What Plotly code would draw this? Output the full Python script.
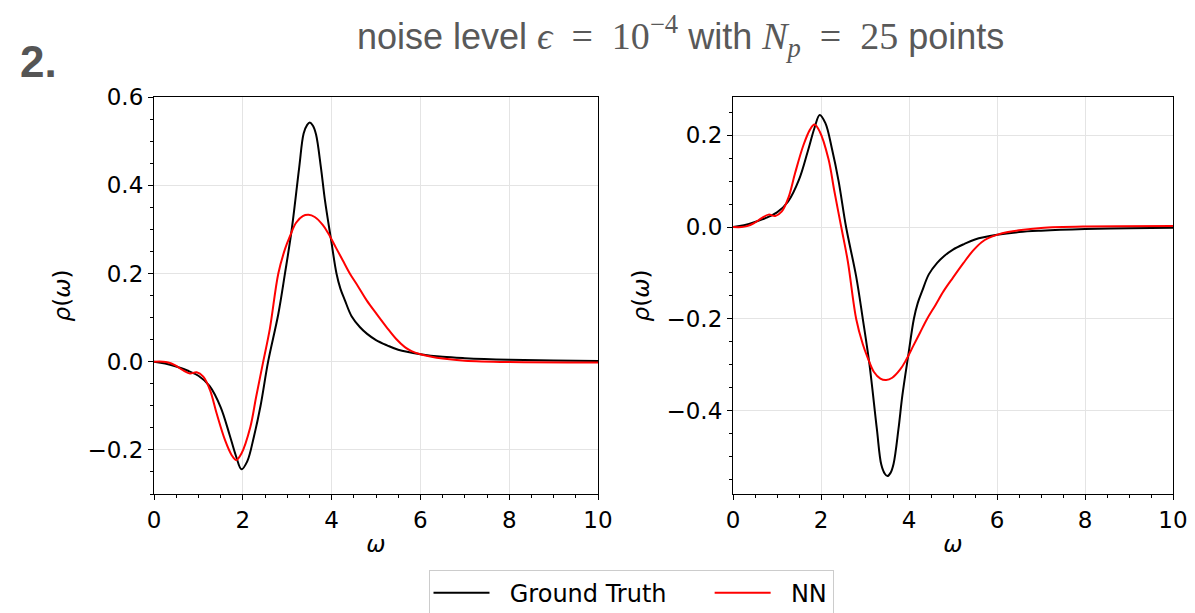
import plotly.graph_objects as go

# ---- data ----
w_gt_left = [0, 0.25, 0.5, 0.75, 1.0, 1.25, 1.5, 1.7, 1.85, 1.97, 2.1, 2.25, 2.4, 2.57, 2.8, 2.95,
             3.1, 3.27, 3.37, 3.45, 3.51, 3.58, 3.65, 3.76, 3.85, 3.99, 4.11, 4.2, 4.3, 4.45, 4.64,
             4.8, 5.0, 5.25, 5.5, 6.0, 6.5, 7.0, 8.0, 9.0, 10.0]
rho_gt_left = [0, -0.004, -0.011, -0.02, -0.032, -0.055, -0.103, -0.165, -0.215, -0.244, -0.226,
               -0.17, -0.10, 0.0, 0.108, 0.2, 0.298, 0.44, 0.517, 0.537, 0.542, 0.535, 0.515, 0.44,
               0.366, 0.275, 0.2, 0.165, 0.139, 0.103, 0.078, 0.063, 0.049, 0.037, 0.027, 0.017,
               0.011, 0.008, 0.0045, 0.0025, 0.0015]

w_nn_left = [0, 0.2, 0.32, 0.47, 0.66, 0.81, 0.96, 1.11, 1.26, 1.41, 1.6, 1.75, 1.85, 1.97, 2.17,
             2.3, 2.46, 2.61, 2.8, 2.95, 3.06, 3.2, 3.35, 3.48, 3.62, 3.8, 3.93, 4.1, 4.25,
             4.41, 4.6, 4.79, 5.0, 5.24, 5.45, 5.65, 5.8, 6.0, 6.25, 6.5, 7.0, 8.0, 10.0]
rho_nn_left = [0, 0.0, -0.002, -0.008, -0.02, -0.027, -0.024, -0.034, -0.064, -0.117, -0.178,
               -0.212, -0.223, -0.208, -0.148, -0.08, 0.0, 0.075, 0.2, 0.255, 0.284, 0.315,
               0.33, 0.333, 0.328, 0.31, 0.29, 0.258, 0.23, 0.2, 0.17, 0.139, 0.11, 0.078, 0.052,
               0.033, 0.024, 0.017, 0.011, 0.007, 0.002, -0.001, -0.002]

w_gt_right = [0, 0.25, 0.5, 0.75, 1.0, 1.25, 1.5, 1.7, 1.85, 1.97, 2.1, 2.25, 2.4, 2.57, 2.8, 2.95,
              3.1, 3.27, 3.37, 3.45, 3.51, 3.58, 3.65, 3.76, 3.85, 3.99, 4.11, 4.2, 4.3, 4.45, 4.64,
              4.8, 5.0, 5.25, 5.5, 6.0, 6.5, 7.0, 8.0, 9.0, 10.0]
rho_gt_right = [0, 0.004, 0.011, 0.02, 0.032, 0.055, 0.103, 0.165, 0.215, 0.244, 0.226,
                0.17, 0.10, 0.0, -0.108, -0.2, -0.298, -0.44, -0.517, -0.537, -0.542, -0.535, -0.515,
                -0.44, -0.366, -0.275, -0.2, -0.165, -0.139, -0.103, -0.078, -0.063, -0.049, -0.037,
                -0.027, -0.017, -0.011, -0.008, -0.0045, -0.0025, -0.0015]

w_nn_right = [0, 0.2, 0.32, 0.47, 0.66, 0.81, 0.96, 1.11, 1.26, 1.41, 1.6, 1.75, 1.85, 1.97, 2.17,
              2.3, 2.46, 2.61, 2.8, 2.95, 3.06, 3.2, 3.35, 3.48, 3.62, 3.8, 3.93, 4.1, 4.25,
              4.41, 4.6, 4.79, 5.0, 5.24, 5.45, 5.65, 5.8, 6.0, 6.25, 6.5, 7.0, 8.0, 10.0]
rho_nn_right = [0, 0.0, 0.002, 0.008, 0.02, 0.027, 0.024, 0.034, 0.064, 0.117, 0.178,
                0.212, 0.223, 0.208, 0.148, 0.08, 0.0, -0.075, -0.2, -0.255, -0.284, -0.315,
                -0.33, -0.333, -0.328, -0.31, -0.29, -0.258, -0.23, -0.2, -0.17, -0.139, -0.11, -0.078,
                -0.052, -0.033, -0.024, -0.017, -0.011, -0.007, -0.002, 0.001, 0.002]

x_ticks = [0, 2, 4, 6, 8, 10]
y_ticks_left = [-0.2, 0.0, 0.2, 0.4, 0.6]
y_ticks_right = [-0.4, -0.2, 0.0, 0.2]

series_names = ["Ground Truth", "NN"]
series_colors = ["black", "red"]
NB = "\u00a0"
legend_labels = [NB * 2 + series_names[0] + NB * 5, NB * 2 + series_names[1]]

fig = go.Figure()

def add(w, r, i, xa, ya, show):
    fig.add_trace(go.Scatter(x=w, y=r, mode="lines", name=legend_labels[i],
                             line=dict(color=series_colors[i], width=2, shape="spline", smoothing=1.0),
                             xaxis=xa, yaxis=ya, showlegend=show, legendgroup=series_names[i]))

add(w_gt_left, rho_gt_left, 0, "x", "y", True)
add(w_nn_left, rho_nn_left, 1, "x", "y", True)
add(w_gt_right, rho_gt_right, 0, "x2", "y2", False)
add(w_nn_right, rho_nn_right, 1, "x2", "y2", False)

# page has an 8px body margin; figure coordinates = page coordinates - 8
OFF = 8
W, H = 1195 - OFF, 613 - OFF
FS = 23
tickfont = dict(family="DejaVu Sans", size=FS, color="black")
ydom = [1 - (494 - OFF) / H, 1 - (97 - OFF) / H]

def xaxis(dom, anchor):
    return dict(domain=dom, anchor=anchor, range=[0, 10], tickvals=x_ticks, automargin=False,
                showline=True, linecolor="black", linewidth=1.2, mirror=True,
                ticks="outside", ticklen=5, tickcolor="black", tickfont=tickfont,
                showgrid=True, gridcolor="#e4e4e4", gridwidth=1, zeroline=False,
                minor=dict(dtick=0.5, ticks="outside", ticklen=3, tickcolor="black", showgrid=False),
                title=dict(text="<i>ω</i>", font=dict(family="DejaVu Sans", size=FS, color="black"),
                           standoff=4))

def yaxis(rng, tv, anchor):
    return dict(domain=ydom, anchor=anchor, range=rng, tickvals=tv, tickformat=".1f", automargin=False,
                showline=True, linecolor="black", linewidth=1.2, mirror=True,
                ticks="outside", ticklen=5, tickcolor="black", tickfont=tickfont,
                showgrid=True, gridcolor="#e4e4e4", gridwidth=1, zeroline=False,
                minor=dict(dtick=0.05, ticks="outside", ticklen=3, tickcolor="black", showgrid=False),
                title=dict(text="<i>ρ</i>(<i>ω</i>)", font=dict(family="DejaVu Sans", size=FS, color="black"),
                           standoff=10))

fig.update_layout(
    width=W, height=H,
    margin=dict(l=0, r=0, t=0, b=0, autoexpand=False),
    paper_bgcolor="white", plot_bgcolor="white",
    xaxis=xaxis([(154 - OFF) / W, (598 - OFF) / W], "y"),
    yaxis=yaxis([-0.3, 0.6], y_ticks_left, "x"),
    xaxis2=xaxis([(733 - OFF) / W, (1173 - OFF) / W], "y2"),
    yaxis2=yaxis([-0.581, 0.283], y_ticks_right, "x2"),
    legend=dict(orientation="h", x=(631 - OFF) / W, xanchor="center", y=-0.006, yanchor="bottom",
                font=dict(family="DejaVu Sans", size=24, color="black"),
                bordercolor="#cccccc", borderwidth=1, bgcolor="white", itemwidth=56),
    showlegend=True,
)

fig.add_annotation(
    x=(680 - OFF) / W, y=1 - (36 - OFF) / H, xref="paper", yref="paper", xanchor="center", yanchor="middle",
    showarrow=False,
    text=("noise level <span style='font-family:Liberation Serif;font-size:38px'><i>ϵ</i>  =  10<sup>−4</sup></span>"
          " with <span style='font-family:Liberation Serif;font-size:38px'><i>N<sub>p</sub></i>  =  25</span> points"),
    font=dict(family="Liberation Sans", size=36, color="#595959"),
)
fig.add_annotation(
    x=(18 - OFF) / W, y=1 - (62 - OFF) / H, xref="paper", yref="paper", xanchor="left", yanchor="middle",
    showarrow=False, text="<b>2.</b>",
    font=dict(family="Liberation Sans", size=44, color="#555555"),
)

fig.write_html("out.html")
